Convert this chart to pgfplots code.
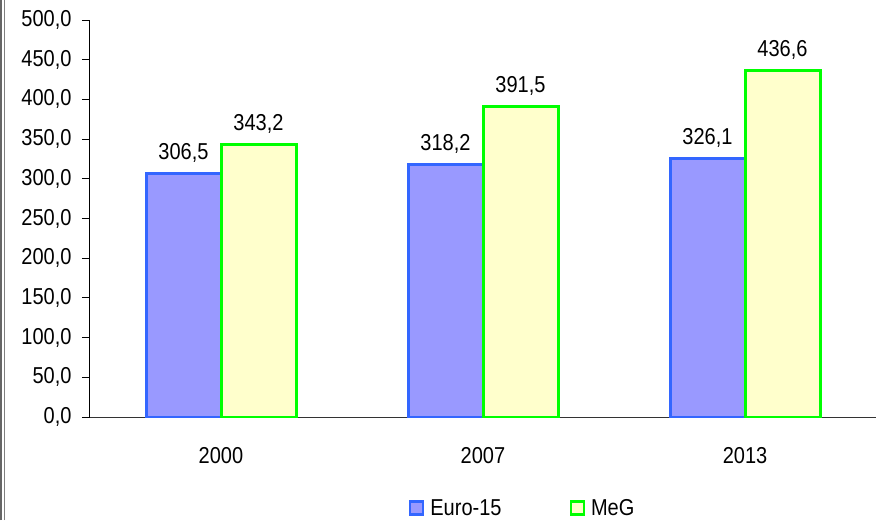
\documentclass[border=0pt]{standalone}
\usepackage{fontspec}
\setmainfont{Liberation Sans}[FakeStretch=0.87]
\usepackage{pgfplots}
\pgfplotsset{compat=1.18}
\definecolor{euroFill}{HTML}{9999FF}
\definecolor{euroLine}{HTML}{3366FF}
\definecolor{megFill}{HTML}{FFFFCC}
\definecolor{megLine}{HTML}{00FF00}
\begin{document}
\begin{tikzpicture}
\useasboundingbox[fill=white] (-90pt,-103pt) rectangle (790pt,417pt);
\draw[gray!80!black, line width=2pt] (-89pt,-103pt) -- (-89pt,417pt);
\draw[gray, line width=1.2pt] (-85.6pt,-103pt) -- (-85.6pt,417pt);
\begin{axis}[
  at={(0,0)}, anchor=south west,
  scale only axis,
  width=786pt, height=397pt,
  font=\fontsize{23}{27}\selectfont,
  ybar=0pt, bar width=75pt,
  xmin=-0.5, xmax=2.5,
  ymin=0, ymax=500,
  axis x line*=bottom, axis y line*=left,
  axis line style={-, line width=1pt},
  x axis line style={gray!40!black},
  xtick={0,1,2},
  xticklabels={2000,2007,2013},
  x tick style={draw=none},
  extra x ticks={-0.5,0.5,1.5,2.5},
  extra x tick labels={},
  extra x tick style={tick style={draw=black, line width=1pt}, major tick length=8pt, tick align=outside},
  xticklabel style={yshift=-19pt},
  ytick={0,50,...,500},
  tick align=outside,
  major tick length=8pt,
  y tick style={line width=1pt, black},
  yticklabel style={xshift=-7pt, /pgf/number format/fixed, /pgf/number format/fixed zerofill, /pgf/number format/precision=1, /pgf/number format/use comma},
  /pgf/number format/assume math mode=true,
  nodes near coords,
  nodes near coords style={/pgf/number format/fixed, /pgf/number format/fixed zerofill, /pgf/number format/precision=1, /pgf/number format/use comma, /pgf/number format/1000 sep={}},
  every node near coord/.append style={anchor=south, inner sep=0pt, yshift=9.5pt, black},
  legend columns=2,
  legend style={at={(axis description cs:0.553,-0.229)}, anchor=center, draw=none, fill=none,
    /tikz/every even column/.append style={column sep=62pt}, font=\fontsize{23}{27}\selectfont,
    nodes={inner xsep=6pt}},
  legend image code/.code={\draw[#1, line width=2.5pt] (0pt,-6.5pt) rectangle (13pt,6.5pt);},
]
\addplot[fill=euroFill, draw=euroLine, line width=3pt] coordinates {(0,306.5) (1,318.2) (2,326.1)};
\addplot[fill=megFill, draw=megLine, line width=3pt] coordinates {(0,343.2) (1,391.5) (2,436.6)};
\legend{Euro-15, MeG}
\end{axis}
\end{tikzpicture}
\end{document}
